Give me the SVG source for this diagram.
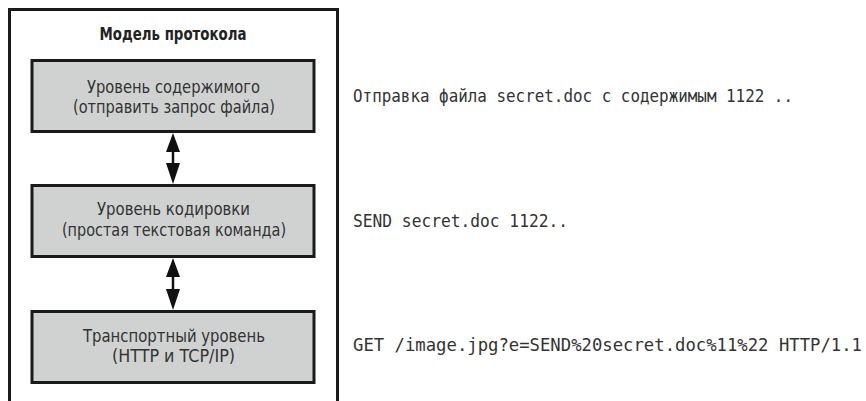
<svg xmlns="http://www.w3.org/2000/svg" width="866" height="401" viewBox="0 0 866 401">
<style>
.frame{fill:#fff;stroke:#1a1a1a;stroke-width:3}
.box{fill:#d0d2d2;stroke:#1a1a1a;stroke-width:3}
.lbl{font-family:"Liberation Sans Narrow","DejaVu Sans Condensed","Liberation Sans",sans-serif;font-size:18px;fill:#333;text-anchor:middle}
.ttl{font-family:"Liberation Sans Narrow","DejaVu Sans Condensed","Liberation Sans",sans-serif;font-size:18px;font-weight:bold;fill:#222;text-anchor:middle}
.code{font-family:"DejaVu Sans Mono","Liberation Mono",monospace;font-size:17px;fill:#333}
.conn{stroke:#111;stroke-width:2.5;fill:none}
.head{fill:#111}
</style>
<rect width="866" height="401" fill="#fff"/>
<g id="frame">
<rect class="frame" x="9.5" y="9.5" width="328" height="400"/>
<text class="ttl" x="173" y="40" textLength="147" lengthAdjust="spacingAndGlyphs">Модель протокола</text>
</g>
<g id="content-layer">
<rect class="box" x="32" y="60.5" width="282" height="71"/>
<text class="lbl" x="173.5" y="93" textLength="173" lengthAdjust="spacingAndGlyphs">Уровень содержимого</text>
<text class="lbl" x="174" y="113" textLength="202" lengthAdjust="spacingAndGlyphs">(отправить запрос файла)</text>
</g>
<g id="encoding-layer">
<rect class="box" x="32" y="185.5" width="282" height="71"/>
<text class="lbl" x="173.5" y="215" textLength="153" lengthAdjust="spacingAndGlyphs">Уровень кодировки</text>
<text class="lbl" x="174" y="236" textLength="224" lengthAdjust="spacingAndGlyphs">(простая текстовая команда)</text>
</g>
<g id="transport-layer">
<rect class="box" x="32" y="311.5" width="282" height="71"/>
<text class="lbl" x="174" y="342" textLength="182" lengthAdjust="spacingAndGlyphs">Транспортный уровень</text>
<text class="lbl" x="173.5" y="362" textLength="123" lengthAdjust="spacingAndGlyphs">(HTTP и TCP/IP)</text>
</g>
<g id="connectors">
<line class="conn" x1="173" y1="148" x2="173" y2="167"/>
<polygon class="head" points="173,133 166,152 180,152"/>
<polygon class="head" points="173,184 166,163 180,163"/>
<line class="conn" x1="173" y1="274" x2="173" y2="293"/>
<polygon class="head" points="173,258 166,277 180,277"/>
<polygon class="head" points="173,310 166,289 180,289"/>
</g>
<g id="examples">
<text class="code" x="353" y="102" textLength="440" lengthAdjust="spacingAndGlyphs">Отправка файла secret.doc с содержимым 1122 ..</text>
<text class="code" x="353" y="227" textLength="215" lengthAdjust="spacingAndGlyphs">SEND secret.doc 1122..</text>
<text class="code" x="353" y="351" textLength="509" lengthAdjust="spacingAndGlyphs">GET /image.jpg?e=SEND%20secret.doc%11%22 HTTP/1.1</text>
</g>
</svg>
